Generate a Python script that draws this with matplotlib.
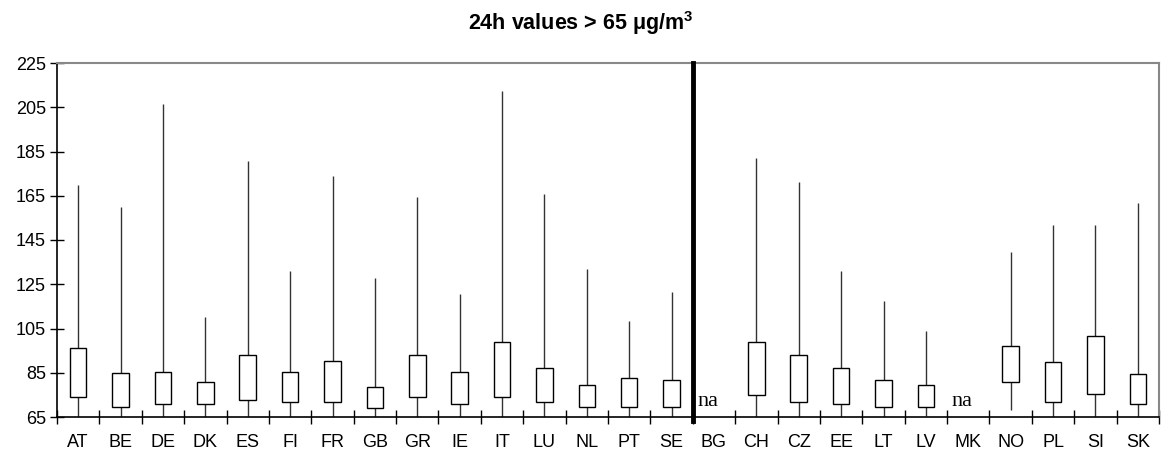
import matplotlib
matplotlib.use('agg')
from matplotlib import pyplot as plt
import numpy as np

countries = ['AT', 'BE', 'DE', 'DK', 'ES', 'FI', 'FR', 'GB', 'GR', 'IE', 'IT', 'LU', 'NL',
             'PT', 'SE', 'BG', 'CH', 'CZ', 'EE', 'LT', 'LV', 'MK', 'NO', 'PL', 'SI', 'SK']
nan = np.nan
# min, 25th pct, 75th pct, max of 24h values above 65 ug/m3
v_min = [65, 65, 65, 65, 65, 65, 65, 65, 65, 65, 65, 65, 65,
         65, 65, nan, 65, 65, 65, 65, 65.5, nan, 68, 65, 65, 65]
v_q1 = [74, 69.5, 71, 71, 72.5, 72, 72, 69, 74, 71, 74, 72, 69.5,
        69.5, 69.5, nan, 75, 72, 71, 69.5, 69.5, nan, 81, 72, 75.5, 71]
v_q3 = [96, 85, 85.5, 81, 93, 85.5, 90.5, 78.5, 93, 85.5, 99, 87, 79.5,
        82.5, 81.5, nan, 99, 93, 87, 81.5, 79.5, nan, 97, 90, 101.5, 84.5]
v_max = [170, 160, 206.5, 110, 180.5, 131, 174, 128, 164.5, 120.5, 212.5, 166, 132,
         108.5, 121.5, nan, 182, 171, 131, 117.5, 104, nan, 139.5, 152, 152, 161.5]
split_after = 'SE'
yticks = [65, 85, 105, 125, 145, 165, 185, 205, 225]

plt.rcParams['font.family'] = ['Liberation Sans', 'DejaVu Sans']
plt.rcParams['mathtext.default'] = 'regular'

fig = plt.figure(figsize=(11.68, 4.54), dpi=100)
ax = fig.add_axes([57 / 1168, 1 - 417 / 454, (1159 - 57) / 1168, (417 - 63) / 454])

x = np.arange(len(countries))
lo = np.array(v_min)
q1 = np.array(v_q1)
q3 = np.array(v_q3)
hi = np.array(v_max)

# whiskers then white boxes on top
ax.vlines(x, lo, hi, color='#333333', lw=1.0, zorder=2)
ax.bar(x, q3 - q1, bottom=q1, width=0.39, facecolor='white', edgecolor='black',
       lw=1.0, zorder=3)

for i, c in enumerate(countries):
    if np.isnan(v_max[i]):
        ax.text(i - 0.15, 70, 'na', family=['Liberation Serif', 'DejaVu Serif'],
                fontsize=16, ha='center', va='baseline', zorder=4)

ax.axvline(countries.index(split_after) + 0.5, color='black', lw=3.5, ymin=-0.01,
           clip_on=False, zorder=5)

ax.set_xlim(-0.5, len(countries) - 0.5)
ax.set_ylim(65, 225)
ax.set_yticks(yticks)
ax.tick_params(axis='y', direction='inout', length=10, width=1, pad=3, labelsize=13)

ax.set_xticks(np.arange(len(countries) + 1) - 0.5)
ax.set_xticklabels([])
ax.set_xticks(x, minor=True)
ax.set_xticklabels(countries, minor=True)
ax.tick_params(axis='x', which='major', direction='inout', length=10, width=1)
ax.tick_params(axis='x', which='minor', length=0, pad=12, labelsize=13)

for s in ['left', 'bottom']:
    ax.spines[s].set_color('black')
    ax.spines[s].set_linewidth(1.2)
for s in ['top', 'right']:
    ax.spines[s].set_color('#888888')
    ax.spines[s].set_linewidth(1.5)

fig.text(0.497, 1 - 23 / 454, '24h values > 65 μg/m$^3$', ha='center', va='center',
         fontsize=15.5, fontweight='bold')

fig.savefig('out.png', dpi=100)
